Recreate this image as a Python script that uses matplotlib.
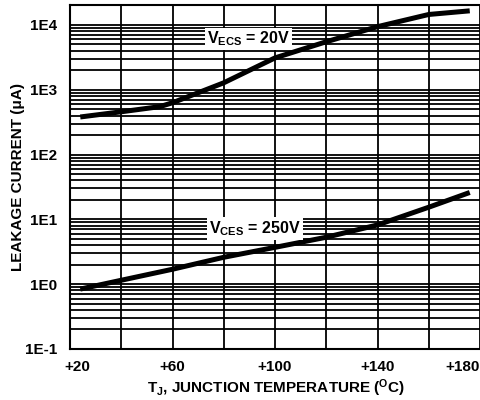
import numpy as np
import matplotlib
matplotlib.use('Agg')
import matplotlib.pyplot as plt
import matplotlib.transforms as mtransforms
from matplotlib.ticker import LogLocator, NullFormatter

plt.rcParams['font.family'] = 'Liberation Sans'
plt.rcParams['font.weight'] = 'bold'
plt.rcParams['mathtext.fontset'] = 'custom'
plt.rcParams['mathtext.rm'] = 'Liberation Sans:bold'
plt.rcParams['mathtext.it'] = 'Liberation Sans:bold'
plt.rcParams['mathtext.bf'] = 'Liberation Sans:bold'

# V_ECS = 20V curve
temp_ecs = [24, 40, 55, 60, 80, 100, 120, 140, 160, 176]
leak_ecs = [380, 457, 548, 630, 1280, 3100, 5500, 9400, 14500, 16500]

# V_CES = 250V curve
temp_ces = [24, 40, 60, 80, 100, 120, 140, 160, 176]
leak_ces = [0.84, 1.15, 1.7, 2.6, 3.7, 5.3, 8.2, 15.4, 26]

x_ticks = [20, 60, 100, 140, 180]
x_labels = ['+20', '+60', '+100', '+140', '+180']
y_ticks = [1e-1, 1e0, 1e1, 1e2, 1e3, 1e4]
y_labels = ['1E-1', '1E0', '1E1', '1E2', '1E3', '1E4']

fig = plt.figure(figsize=(4.8, 4.0), dpi=100)
ax = fig.add_axes([70 / 480, 51 / 400, 410 / 480, 344 / 400])

ax.set_yscale('log')
ax.set_xlim(20, 180)
ax.set_ylim(0.1, 2.03e4)

ax.plot(temp_ecs, leak_ecs, color='black', lw=3.6, solid_capstyle='butt', solid_joinstyle='round', zorder=3)
ax.plot(temp_ces, leak_ces, color='black', lw=3.6, solid_capstyle='butt', solid_joinstyle='round', zorder=3)

# grid
ax.set_xticks(np.arange(20, 181, 20), minor=True)
ax.yaxis.set_minor_locator(LogLocator(base=10, subs=np.arange(2, 10)))
ax.yaxis.set_minor_formatter(NullFormatter())
ax.grid(which='both', axis='both', color='black', lw=1.3)
ax.set_axisbelow(True)

ax.set_xticks(x_ticks)
ax.set_xticklabels(x_labels, fontsize=11, fontweight='bold')
ax.set_yticks(y_ticks)
ax.set_yticklabels(y_labels, fontsize=11, fontweight='bold')
ax.tick_params(which='both', length=0)
ax.tick_params(axis='x', pad=8)
ax.tick_params(axis='y', pad=9)

# nudge edge labels inward like the original
xl = ax.get_xticklabels()
xl[0].set_transform(xl[0].get_transform() + mtransforms.ScaledTranslation(7 / 100, 0, fig.dpi_scale_trans))
xl[-1].set_transform(xl[-1].get_transform() + mtransforms.ScaledTranslation(-17 / 100, 0, fig.dpi_scale_trans))

for s in ['left', 'top', 'bottom']:
    ax.spines[s].set_linewidth(1.5)
ax.spines['right'].set_visible(False)

ax.text(89.5, 6080, r'V$_{\rm ECS}$ = 20V', fontsize=11.5, fontweight='bold', ha='center', va='center',
        bbox=dict(facecolor='white', edgecolor='none', pad=1.5), zorder=4)
ax.text(92.2, 7.3, r'V$_{\rm CES}$ = 250V', fontsize=11.5, fontweight='bold', ha='center', va='center',
        bbox=dict(facecolor='white', edgecolor='none', pad=1.5), zorder=4)

fig.text(18 / 480, 1 - 177 / 400, 'LEAKAGE CURRENT (μA)', rotation=90, fontsize=11,
         fontweight='bold', ha='center', va='center')
fig.text(276 / 480, 12 / 400, r'T$_{\rm J}$, JUNCTION TEMPERATURE ($^{\rm O}$C)', fontsize=11,
         fontweight='bold', ha='center', va='center')

plt.savefig('out.png', dpi=100)
